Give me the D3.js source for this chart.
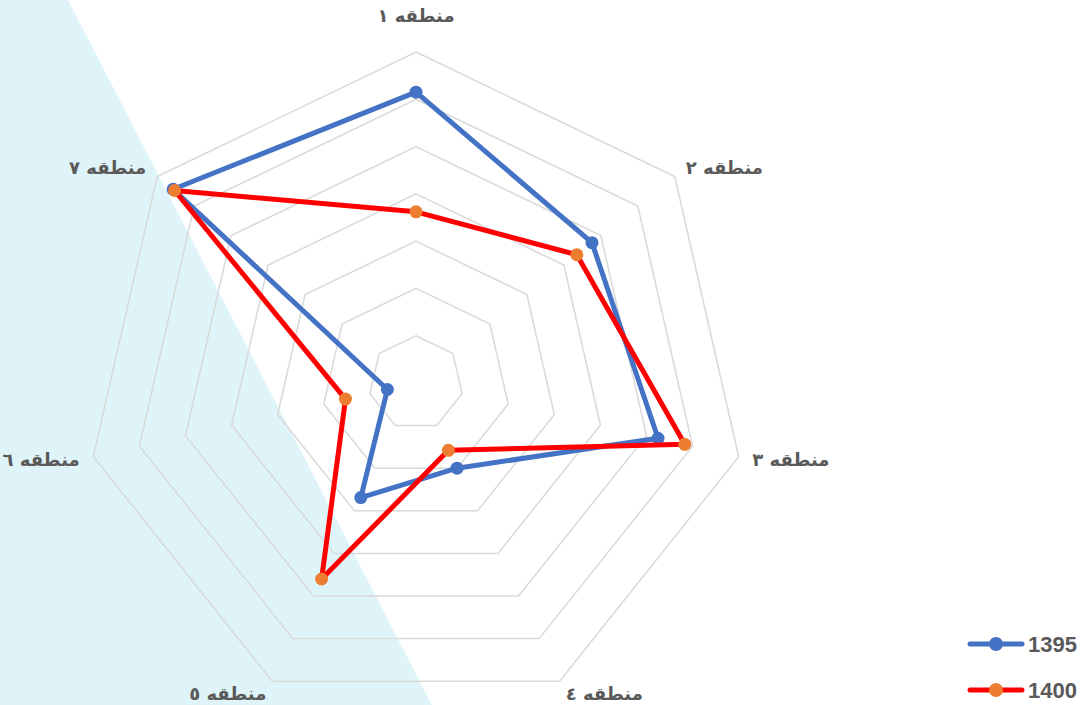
<!DOCTYPE html>
<html lang="fa">
<head>
    <meta charset="utf-8">
    <title>radar</title>
    <script src="https://cdn.jsdelivr.net/npm/d3@7"></script>
    <style>
        html, body { margin: 0; padding: 0; background: #fff; }
    </style>
</head>
<body>
<script>
// data
var regions = ["منطقه ١", "منطقه ٢", "منطقه ٣", "منطقه ٤", "منطقه ٥", "منطقه ٦", "منطقه ٧"];
var series = ["1395", "1400"];
var values1395 = [6.15, 4.76, 5.25, 2.0, 2.69, 0.62, 6.57];
var values1400 = [3.62, 4.35, 5.83, 1.58, 4.6, 1.53, 6.53];
var ringTicks = [1, 2, 3, 4, 5, 6, 7];

var width = 1083, height = 705,
    cx = 416, cy = 383,
    radius = 331,
    labelR = 345;

var lineColors = ["#4472C4", "#FF0000"],
    markerColors = ["#4472C4", "#ED7D31"];

var svg = d3.select("body").append("svg")
    .attr("width", width)
    .attr("height", height);

// decorative background band
svg.append("polygon")
    .attr("points", "0,0 68,0 432," + height + " 0," + height)
    .attr("fill", "#DFF4F9");

var r = d3.scaleLinear().domain([0, 7]).range([0, radius]);
var angle = d3.scalePoint().domain(regions).range([0, 2 * Math.PI * (regions.length - 1) / regions.length]);

function pt(region, v) {
    var a = angle(region);
    return [cx + r(v) * Math.sin(a), cy - r(v) * Math.cos(a)];
}

// grid rings
var g = svg.append("g");
g.selectAll("polygon.ring")
    .data(ringTicks)
    .enter().append("polygon")
    .attr("class", "ring")
    .attr("points", function(t) {
        return regions.map(function(d) { return pt(d, t).join(","); }).join(" ");
    })
    .attr("fill", "none")
    .attr("stroke", "#D9D9D9")
    .attr("stroke-width", 1.5);

// axis labels
g.selectAll("text.lab")
    .data(regions)
    .enter().append("text")
    .attr("class", "lab")
    .attr("direction", "rtl")
    .attr("font-family", "DejaVu Sans, sans-serif")
    .attr("font-weight", "bold")
    .attr("font-size", 18)
    .attr("fill", "#595959")
    .attr("dominant-baseline", "central")
    .attr("text-anchor", function(d) {
        var s = Math.sin(angle(d));
        if (Math.abs(s) < 0.01) return "middle";
        return s > 0 ? "end" : "start"; // rtl flips start/end
    })
    .attr("x", function(d) { return cx + labelR * Math.sin(angle(d)); })
    .attr("y", function(d) {
        var a = angle(d), y = cy - labelR * Math.cos(a);
        if (Math.abs(Math.sin(a)) < 0.01) y -= 23;
        return y;
    })
    .text(function(d) { return d; });

// series
var allValues = [values1395, values1400];
var line = d3.line();

allValues.forEach(function(vals, i) {
    var pts = regions.map(function(d, j) { return pt(d, vals[j]); });
    svg.append("path")
        .attr("d", line(pts) + "Z")
        .attr("fill", "none")
        .attr("stroke", lineColors[i])
        .attr("stroke-width", 5)
        .attr("stroke-linejoin", "round");
    svg.selectAll("circle.s" + i)
        .data(pts)
        .enter().append("circle")
        .attr("class", "s" + i)
        .attr("cx", function(p) { return p[0]; })
        .attr("cy", function(p) { return p[1]; })
        .attr("r", 6.5)
        .attr("fill", markerColors[i]);
});

// legend
var legend = svg.append("g");
series.forEach(function(s, i) {
    var y = 644 + i * 46;
    legend.append("line")
        .attr("x1", 970).attr("x2", 1022)
        .attr("y1", y).attr("y2", y)
        .attr("stroke", lineColors[i])
        .attr("stroke-width", 5)
        .attr("stroke-linecap", "round");
    legend.append("circle")
        .attr("cx", 996).attr("cy", y)
        .attr("r", 7)
        .attr("fill", markerColors[i]);
    legend.append("text")
        .attr("x", 1028).attr("y", y)
        .attr("dominant-baseline", "central")
        .attr("font-family", "Liberation Sans, Arial, sans-serif")
        .attr("font-weight", "bold")
        .attr("font-size", 22)
        .attr("fill", "#595959")
        .text(s);
});
</script>
</body>
</html>
